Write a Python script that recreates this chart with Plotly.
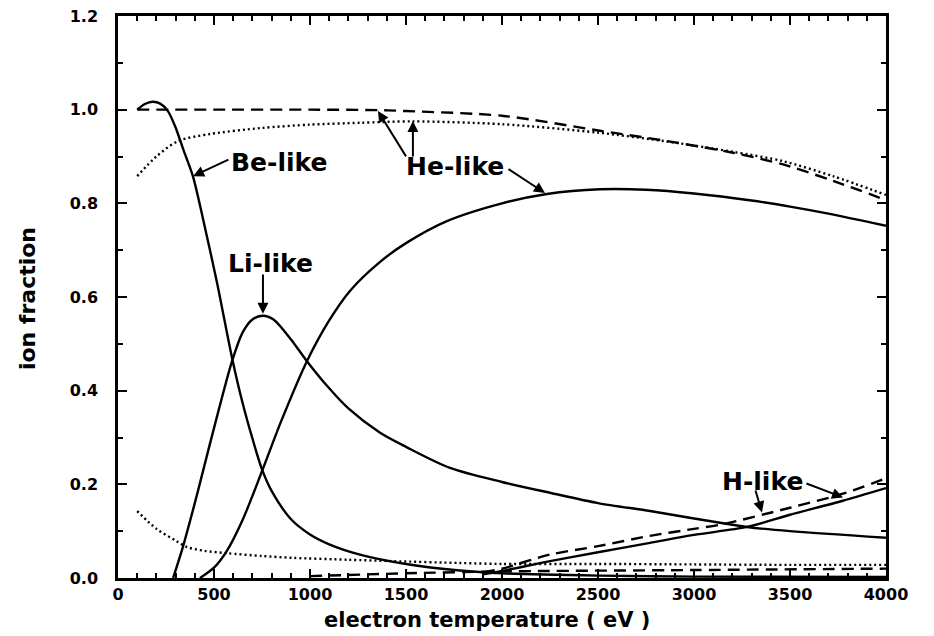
import plotly.graph_objects as go

# ---------------- data ----------------
be_T = [100, 140, 180, 220, 260, 300, 340, 390, 440, 515, 594, 650, 700, 750, 800, 900, 1000, 1100, 1260, 1500, 1781, 2000, 2500, 3000, 4000]
be_f = [1.0, 1.012, 1.017, 1.013, 0.997, 0.962, 0.915, 0.858, 0.772, 0.632, 0.47, 0.372, 0.298, 0.232, 0.186, 0.126, 0.093, 0.072, 0.05, 0.03, 0.016, 0.01, 0.005, 0.003, 0.002]

li_T = [287, 337, 400, 450, 500, 594, 650, 700, 755, 810, 900, 984, 1100, 1200, 1365, 1500, 1729, 2000, 2250, 2500, 2771, 3000, 3276, 3500, 4000]
li_f = [0.0, 0.065, 0.16, 0.24, 0.32, 0.463, 0.525, 0.552, 0.56, 0.552, 0.51, 0.463, 0.405, 0.362, 0.31, 0.28, 0.235, 0.205, 0.182, 0.16, 0.143, 0.127, 0.109, 0.1, 0.086]

he_T = [427, 500, 567, 650, 750, 850, 984, 1100, 1208, 1365, 1500, 1713, 2000, 2234, 2510, 2750, 3000, 3300, 3500, 3700, 4000]
he_f = [0.0, 0.022, 0.058, 0.125, 0.228, 0.335, 0.463, 0.55, 0.613, 0.675, 0.715, 0.762, 0.80, 0.82, 0.83, 0.829, 0.821, 0.806, 0.793, 0.778, 0.752]

h_T = [1900, 2000, 2250, 2500, 2771, 3000, 3276, 3500, 3776, 4000]
h_f = [0.008, 0.015, 0.036, 0.055, 0.075, 0.092, 0.109, 0.135, 0.165, 0.192]

h_dash_T = [1900, 2000, 2250, 2500, 2771, 3000, 3151, 3500, 3776, 4000]
h_dash_f = [0.012, 0.02, 0.05, 0.068, 0.09, 0.105, 0.115, 0.15, 0.18, 0.213]

top_dash_T = [100, 500, 1000, 1365, 1500, 2000, 2510, 2859, 3203, 3464, 3724, 4000]
top_dash_f = [1.0, 1.0, 1.0, 0.999, 0.997, 0.987, 0.955, 0.933, 0.908, 0.883, 0.848, 0.807]

top_dot_T = [100, 200, 313, 479, 750, 1000, 1260, 1537, 2000, 2500, 2859, 3203, 3464, 3724, 4000]
top_dot_f = [0.858, 0.9, 0.933, 0.948, 0.961, 0.968, 0.972, 0.975, 0.969, 0.951, 0.932, 0.91, 0.89, 0.858, 0.818]

low_dot_T = [100, 200, 300, 359, 450, 567, 750, 912, 1200, 1432, 1781, 2000, 2500, 3000, 3500, 4000]
low_dot_f = [0.143, 0.105, 0.08, 0.066, 0.058, 0.053, 0.047, 0.043, 0.039, 0.036, 0.032, 0.03, 0.03, 0.029, 0.028, 0.028]

low_dash_T = [1000, 1500, 2000, 3000, 4000]
low_dash_f = [0.004, 0.01, 0.014, 0.017, 0.02]

x_ticks = [0, 500, 1000, 1500, 2000, 2500, 3000, 3500, 4000]
y_ticks = [0.0, 0.2, 0.4, 0.6, 0.8, 1.0, 1.2]

x_title = "electron temperature ( eV )"
y_title = "ion fraction"

labels = [
    # text, x, y
    ("Be-like", 839, 0.888),
    ("Li-like", 792, 0.672),
    ("He-like", 1755, 0.878),
    ("H-like", 3359, 0.207),
]
arrows = [
    # tail x, tail y, head x, head y
    (583, 0.895, 391, 0.858),
    (755, 0.651, 755, 0.564),
    (1505, 0.897, 1354, 0.997),
    (1536, 0.897, 1536, 0.976),
    (2026, 0.875, 2224, 0.822),
    (3318, 0.19, 3354, 0.14),
    (3578, 0.203, 3776, 0.172),
]

FONT = "DejaVu Sans"
fig = go.Figure()

def add(T, f, dash, width=2.4):
    fig.add_trace(go.Scatter(x=T, y=f, mode="lines", showlegend=False,
                             line=dict(color="black", width=width, dash=dash, shape="spline", smoothing=0.8),
                             hoverinfo="skip"))

add(top_dash_T, top_dash_f, "12px,7px")
add(top_dot_T, top_dot_f, "2px,3px", 2.4)
add(low_dot_T, low_dot_f, "2px,3px", 2.4)
add(low_dash_T, low_dash_f, "12px,7px")
add(be_T, be_f, "solid")
add(li_T, li_f, "solid")
add(he_T, he_f, "solid")
add(h_T, h_f, "solid")
add(h_dash_T, h_dash_f, "12px,7px")

for txt, x, y in labels:
    fig.add_annotation(x=x, y=y, xref="x", yref="y", text=txt, showarrow=False,
                       font=dict(family=FONT, size=25, color="black", weight="bold"))
for tx, ty, hx, hy in arrows:
    fig.add_annotation(x=hx, y=hy, ax=tx, ay=ty, xref="x", yref="y", axref="x", ayref="y",
                       text="", showarrow=True, arrowhead=2, arrowsize=1.1, arrowwidth=2,
                       arrowcolor="black", standoff=0, startstandoff=0)

# axis titles placed as paper annotations
fig.add_annotation(x=0.4805, y=-0.0747, xref="paper", yref="paper", text=x_title, showarrow=False,
                   xanchor="center", yanchor="middle",
                   font=dict(family=FONT, size=21, color="black", weight="bold"))
fig.add_annotation(x=-0.1185, y=0.498, xref="paper", yref="paper", text=y_title, showarrow=False,
                   textangle=-90, xanchor="center", yanchor="middle",
                   font=dict(family=FONT, size=22, color="black", weight="bold"))

# page body has an 8px default margin, so the figure is 8px smaller than the window
fig.update_layout(
    width=926, height=628,
    margin=dict(l=110, r=48, t=8, b=58),
    paper_bgcolor="white", plot_bgcolor="white",
    font=dict(family=FONT, color="black"),
    showlegend=False,
)
fig.update_xaxes(
    range=[-0.001, 4000], tickvals=x_ticks, ticktext=[str(v) for v in x_ticks],
    automargin=False, ticklabeloverflow="allow",
    showgrid=False, zeroline=False, showline=True, linecolor="black", linewidth=2.5, mirror="ticks",
    ticks="inside", ticklen=9, tickwidth=2, tickcolor="black",
    minor=dict(dtick=100, ticks="inside", ticklen=5, tickwidth=1.5, tickcolor="black", showgrid=False),
    tickfont=dict(family=FONT, size=16, color="black", weight="bold"),
)
fig.update_yaxes(
    range=[0, 1.2], tickvals=y_ticks, ticktext=[f"{v:.1f}" for v in y_ticks],
    automargin=False, ticklabeloverflow="allow",
    showgrid=False, zeroline=False, showline=True, linecolor="black", linewidth=2.5, mirror="ticks",
    ticks="inside", ticklen=9, tickwidth=2, tickcolor="black",
    minor=dict(dtick=0.1, ticks="inside", ticklen=5, tickwidth=1.5, tickcolor="black", showgrid=False),
    tickfont=dict(family=FONT, size=16, color="black", weight="bold"),
    ticklabelstandoff=14,
)

fig.write_html("out.html")
